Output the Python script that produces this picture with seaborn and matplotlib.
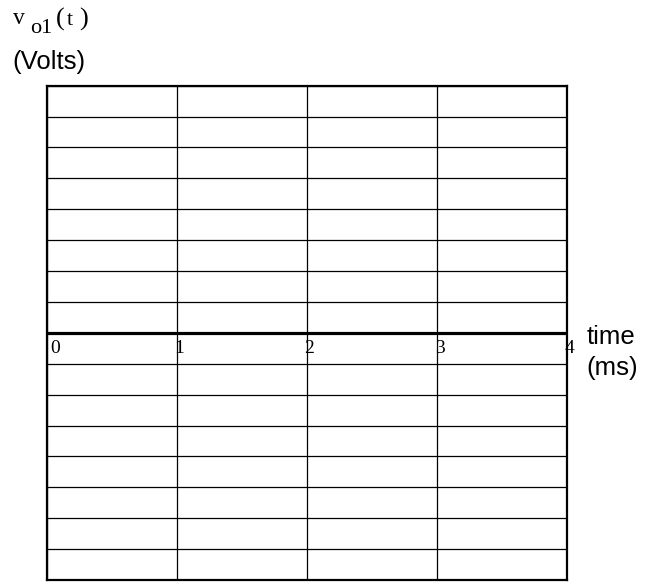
import numpy as np
import pandas as pd
import seaborn as sns
import matplotlib.pyplot as plt

# grid values
time_ms = [0, 1, 2, 3, 4]
time_labels = ["0", "1", "2", "3", "4"]
volt_ticks = list(range(-8, 9))
zero_level = [0, 0, 0, 0, 0]

W, H = 653, 583
sns.set_style("white")
plt.rcParams['font.family'] = ['Liberation Sans', 'DejaVu Sans']
plt.rcParams['text.color'] = 'black'

fig = plt.figure(figsize=(W / 100, H / 100), dpi=100)
ax = fig.add_axes([46.7 / W, 1 - 580 / H, (567.3 - 46.7) / W, (580 - 85.7) / H])


def px(x, y):
    return x / W, 1 - y / H


# zero axis (time axis)
df = pd.DataFrame({'time': time_ms, 'v': zero_level})
sns.lineplot(data=df, x='time', y='v', color='black', lw=2.3, ax=ax)

ax.set_xlim(time_ms[0], time_ms[-1])
ax.set_ylim(volt_ticks[0], volt_ticks[-1])
ax.set_xticks(time_ms)
ax.set_yticks(volt_ticks)
ax.set_xticklabels([])
ax.set_yticklabels([])
ax.tick_params(length=0)
ax.grid(True, color='black', lw=0.9)
ax.set_xlabel('')
ax.set_ylabel('')
for s in ax.spines.values():
    s.set_color('black')
    s.set_linewidth(1.6)

# tick numbers under the zero line
for t, lab in zip(time_ms, time_labels):
    if t == time_ms[0]:
        ax.annotate(lab, xy=(t, 0), xytext=(4, -20), textcoords='offset pixels',
                    ha='left', va='baseline', fontsize=14, family='Liberation Serif')
    else:
        ax.annotate(lab, xy=(t, 0), xytext=(2.5, -20), textcoords='offset pixels',
                    ha='center', va='baseline', fontsize=14, family='Liberation Serif')

# y axis title: v_o1(t), spaced out like the reference
serif = dict(family='Liberation Serif', va='baseline')
fig.text(*px(13, 24), "v", fontsize=17, **serif)
fig.text(*px(30, 33), "o1", fontsize=16, **serif)
fig.text(*px(56, 26), "(", fontsize=19, **serif)
fig.text(*px(67, 25), "t", fontsize=16, **serif)
fig.text(*px(79, 26), ")", fontsize=19, **serif)
fig.text(*px(12, 69), "(Volts)", fontsize=18.5, va='baseline')

# x axis title
fig.text(*px(587, 344), "time", fontsize=18.5, va='baseline')
fig.text(*px(586, 375), "(ms)", fontsize=18.5, va='baseline')

fig.savefig('out.png', dpi=100)
